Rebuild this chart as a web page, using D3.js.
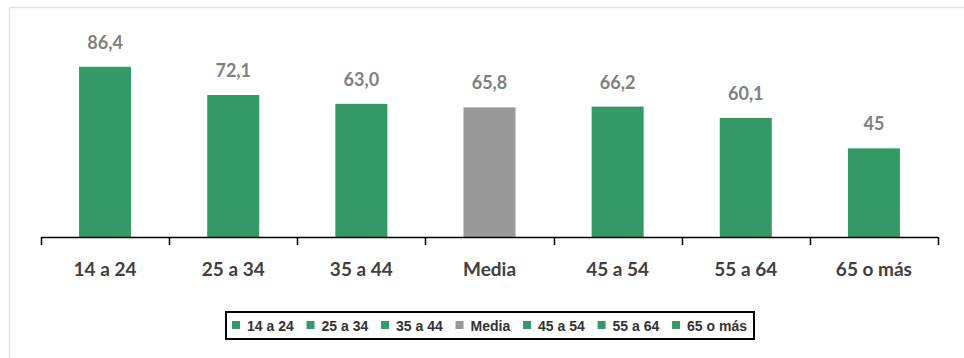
<!DOCTYPE html>
<html><head><meta charset="utf-8">
<script src="https://cdn.jsdelivr.net/npm/d3@7"></script>
<style>body{margin:0;background:#fff}svg{display:block}</style>
</head><body>
<svg id="c" width="964" height="358"></svg>
<script>
const categories = ["14 a 24","25 a 34","35 a 44","Media","45 a 54","55 a 64","65 o más"];
// bar heights (drawn heights)
const values = [86.4,72.1,67.6,65.8,66.2,60.4,45];
// data labels as printed
const valueLabels = ["86,4","72,1","63,0","65,8","66,2","60,1","45"];
const colors = ["#339966","#339966","#339966","#999999","#339966","#339966","#339966"];

const svg = d3.select("#c");
// frame
svg.append("path").attr("d","M9.5,358 V7.5 H964").attr("fill","none").attr("stroke","#e3e3e3").attr("stroke-width",1.5);

const x = d3.scaleBand().domain(categories).range([41,938]).paddingInner(0.594).paddingOuter(0.297);
const y = d3.scaleLinear().domain([0,100]).range([237,40]);

svg.selectAll("rect.bar").data(values).enter().append("rect")
  .attr("x",(d,i)=>x(categories[i])).attr("width",x.bandwidth())
  .attr("y",d=>y(d)).attr("height",d=>y(0)-y(d)).attr("fill",(d,i)=>colors[i]);

svg.selectAll("text.val").data(values).enter().append("text")
  .attr("x",(d,i)=>x(categories[i])+x.bandwidth()/2).attr("y",d=>y(d)-18)
  .attr("text-anchor","middle").attr("font-family","Lato, 'Open Sans', sans-serif").attr("font-weight","bold")
  .attr("font-size","18px").attr("fill","#808080").text((d,i)=>valueLabels[i]);

// axis
const ticks = d3.range(categories.length+1).map(i=>41+i*((938-41)/categories.length));
svg.append("line").attr("x1",41).attr("x2",938).attr("y1",237.5).attr("y2",237.5).attr("stroke","#000").attr("stroke-width",1.5);
svg.selectAll("line.tk").data(ticks).enter().append("line")
  .attr("x1",d=>Math.round(d)+0.5).attr("x2",d=>Math.round(d)+0.5).attr("y1",237).attr("y2",245).attr("stroke","#000").attr("stroke-width",1.5);
svg.selectAll("text.cat").data(categories).enter().append("text")
  .attr("x",d=>x(d)+x.bandwidth()/2).attr("y",276).attr("text-anchor","middle")
  .attr("font-family","Lato, 'Open Sans', sans-serif").attr("font-weight","bold").attr("font-size","19px")
  .attr("fill","#404040").text(d=>d);

// legend
const lg = svg.append("g");
lg.append("rect").attr("x",226).attr("y",312).attr("width",528).attr("height",27).attr("fill","#fff").attr("stroke","#000").attr("stroke-width",2);
let lx = 232;
categories.forEach((c,i)=>{
  lg.append("rect").attr("x",lx).attr("y",321).attr("width",8).attr("height",8).attr("fill",colors[i]);
  const t = lg.append("text").attr("x",lx+15).attr("y",330.5).attr("font-family","'Liberation Sans', Arial, sans-serif")
    .attr("font-weight","bold").attr("font-size","14px").attr("fill","#333").text(c);
  lx += 15 + t.node().getComputedTextLength() + 12.8;
});
</script>
</body></html>
